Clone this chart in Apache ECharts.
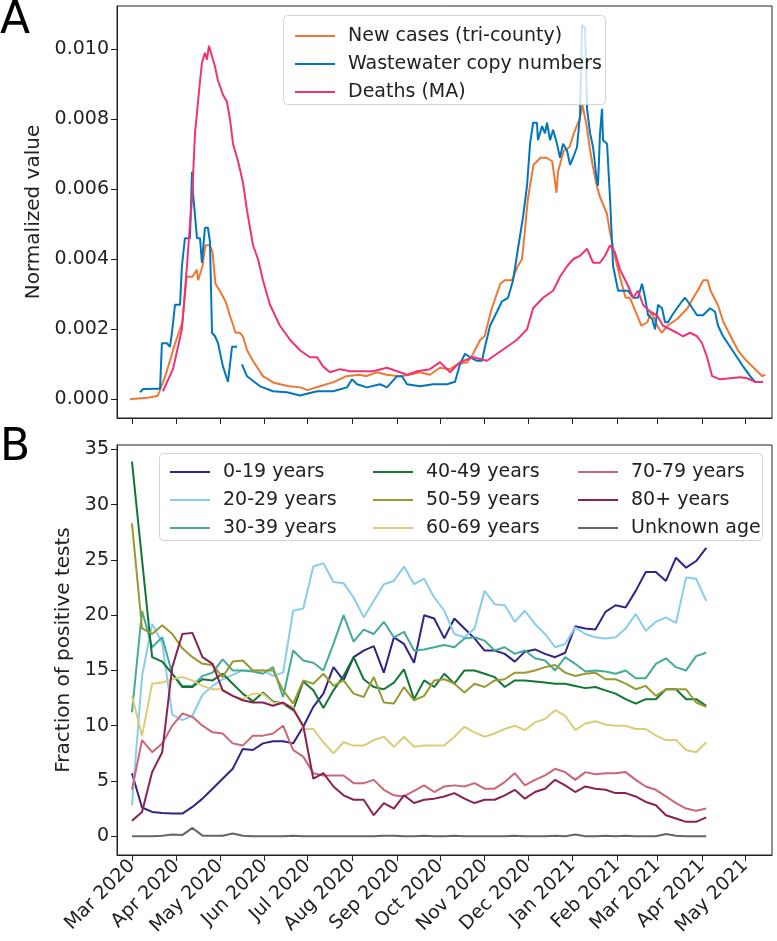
<!DOCTYPE html>
<html><head><meta charset="utf-8">
<script src="https://cdn.jsdelivr.net/npm/echarts@6/dist/echarts.min.js"></script>
<style>html,body{margin:0;padding:0;background:#fff}#c{width:777px;height:941px}</style>
</head><body><div id="c"></div>
<script>
// ---- tick labels (month starts) ----
const tickDates = ['2020-03-01','2020-04-01','2020-05-01','2020-06-01','2020-07-01','2020-08-01','2020-09-01','2020-10-01','2020-11-01','2020-12-01','2021-01-01','2021-02-01','2021-03-01','2021-04-01','2021-05-01'];
const tickLabels = ['Mar 2020','Apr 2020','May 2020','Jun 2020','Jul 2020','Aug 2020','Sep 2020','Oct 2020','Nov 2020','Dec 2020','Jan 2021','Feb 2021','Mar 2021','Apr 2021','May 2021'];
const yTicksA = [0, 0.002, 0.004, 0.006, 0.008, 0.010];
const yTicksB = [0, 5, 10, 15, 20, 25, 30, 35];

// ---- Panel A: [days since 2020-03-01, normalized value] ----
const newCases = [[-1.4,0],[12,0.00005],[18,0.0001],[24,0.00077],[30,0.0016],[35,0.0022],[38,0.0035],[42,0.0035],[45,0.0037],[46,0.0034],[49,0.0038],[51,0.0044],[54,0.0044],[56,0.0042],[58,0.0033],[61,0.0031],[65,0.0028],[68,0.0024],[72,0.0019],[75,0.0019],[77,0.0018],[80,0.0014],[84,0.0011],[91,0.00066],[98,0.00048],[108,0.00038],[117,0.00034],[122,0.00026],[131,0.00038],[140,0.00049],[149,0.00066],[158,0.0007],[163,0.00066],[170,0.00077],[177,0.0007],[186,0.00066],[193,0.0007],[200,0.00077],[207,0.0007],[214,0.0009],[221,0.00086],[226,0.001],[233,0.00106],[237,0.0013],[242,0.0017],[245,0.0018],[250,0.0026],[256,0.0033],[259,0.0034],[264,0.0034],[268,0.0038],[271,0.004],[273,0.0048],[275,0.0057],[279,0.0067],[284,0.0069],[288,0.0069],[292,0.0068],[295,0.0059],[296,0.0065],[300,0.0071],[304,0.0072],[307,0.0076],[309,0.0078],[311,0.008],[313,0.0084],[316,0.0078],[318,0.0072],[320,0.0067],[323,0.0061],[325,0.0058],[327,0.0056],[330,0.0053],[332,0.0048],[336,0.004],[339,0.0035],[343,0.0029],[346,0.0029],[350,0.0025],[354,0.0021],[358,0.0022],[361,0.0025],[365,0.0021],[368,0.0019],[372,0.0021],[379,0.0023],[386,0.0026],[390,0.0029],[393,0.0031],[397,0.0034],[400,0.0034],[402,0.0031],[407,0.0027],[411,0.0022],[416,0.0018],[421,0.0014],[427,0.0011],[433,0.00086],[438,0.00066],[440,0.0007]];
const wastewater = [[5.6,0.0002],[7.6,0.00029],[18.1,0.0003],[19.5,0.0003],[20.8,0.0016],[24.3,0.0016],[26.4,0.0015],[27.8,0.0019],[29.9,0.0027],[33.4,0.0027],[34.7,0.0038],[36.8,0.0046],[40.3,0.0046],[41.7,0.0065],[42.4,0.0059],[45.2,0.0046],[47.3,0.0046],[48.6,0.0039],[50.7,0.0049],[52.8,0.0049],[54.2,0.0045],[55.6,0.0019],[57.7,0.0018],[59.8,0.0016],[63.2,0.00094],[66.7,0.0005],[69.5,0.0015],[73.0,0.0015],[74.4,null],[76.4,0.001],[79.9,0.00066],[89.0,0.00037],[98.0,0.00023],[107.7,0.0002],[116.7,0.00011],[128.6,0.00023],[139.7,0.00023],[149.4,0.00034],[152.9,0.00057],[156.4,0.00043],[163.3,0.00034],[172.3,0.00043],[177.2,0.00034],[184.2,0.00066],[187.6,0.00066],[191.1,0.00043],[200.1,0.00037],[209.2,0.00043],[218.9,0.00043],[224.5,0.0005],[227.9,0.001],[231.4,0.0013],[234.9,0.0012],[239.7,0.0011],[243.2,0.0011],[245.3,0.0015],[248.8,0.0021],[253.6,0.0025],[257.1,0.0028],[261.3,0.0029],[264.8,0.0034],[268.2,0.0043],[271.7,0.0052],[274.5,0.0061],[276.6,0.0073],[278.7,0.0079],[281.4,0.0079],[282.1,0.0074],[284.9,0.0078],[287.0,0.0076],[288.4,0.0079],[290.5,0.0074],[292.6,0.0077],[295.3,0.0073],[297.4,0.0069],[299.5,0.0073],[302.3,0.0071],[304.4,0.0067],[306.5,0.0069],[309.2,0.0072],[311.3,0.0081],[312.7,0.0107],[314.8,0.0106],[316.2,0.0083],[318.3,0.0076],[320.4,0.0072],[323.1,0.0062],[323.8,0.0061],[325.2,0.0076],[326.6,0.0083],[327.3,0.0074],[330.1,0.0073],[332.2,0.0057],[334.3,0.0038],[337.8,0.0031],[341.2,0.0031],[344.7,0.0031],[348.2,0.0029],[351.6,0.0029],[354.4,0.0033],[356.5,0.0029],[358.6,0.0024],[361.4,0.0023],[363.4,0.002],[365.5,0.0027],[368.3,0.0026],[370.4,0.0022],[372.5,0.0022],[375.3,0.0024],[378.7,0.0026],[382.2,0.0028],[384.3,0.0029],[387.8,0.0027],[392.6,0.0024],[396.8,0.0024],[401.7,0.0026],[405.1,0.0025],[407.2,0.0021],[410.7,0.0018],[415.6,0.0015],[420.4,0.0012],[424.6,0.00094],[429.5,0.00066],[432.9,0.0005],[438.5,0.00049]];
const deathsMA = [[21.5,0.00023],[28.5,0.00086],[34.7,0.002],[38.2,0.0038],[40.3,0.005],[41.7,0.0057],[43.8,0.0076],[47.3,0.0091],[48.6,0.0096],[50.7,0.0099],[52.1,0.0097],[53.5,0.0101],[55.6,0.0098],[57.7,0.0095],[59.8,0.0091],[63.2,0.0087],[66.0,0.0085],[68.1,0.008],[70.2,0.0073],[73.7,0.0068],[77.1,0.0062],[79.9,0.0054],[84.1,0.0044],[87.6,0.004],[91.0,0.0034],[95.9,0.0027],[102.8,0.0021],[109.8,0.0017],[116.7,0.0014],[123.7,0.0012],[128.6,0.0012],[132.7,0.00094],[137.6,0.00077],[144.5,0.00086],[151.5,0.0008],[158.4,0.0008],[167.5,0.0008],[177.2,0.0009],[184.2,0.0008],[191.1,0.0007],[198.1,0.0008],[207.1,0.00086],[214.0,0.00106],[221.0,0.00077],[227.9,0.00106],[237.0,0.0012],[246.7,0.0011],[253.6,0.0013],[260.6,0.0015],[267.5,0.0017],[274.5,0.002],[278.7,0.0026],[285.6,0.0029],[292.6,0.0031],[297.4,0.0035],[302.3,0.0038],[306.5,0.004],[311.3,0.0041],[316.2,0.0043],[320.4,0.0039],[325.2,0.0039],[328.7,0.0041],[332.2,0.0044],[335.6,0.0042],[339.1,0.0037],[344.0,0.0033],[348.2,0.0029],[351.6,0.0031],[355.1,0.0027],[360.0,0.0025],[364.8,0.0024],[369.0,0.0021],[373.9,0.002],[378.7,0.0019],[382.9,0.0018],[387.8,0.0019],[392.6,0.0018],[396.1,0.0016],[399.6,0.0012],[403.1,0.00066],[408.6,0.00057],[415.6,0.0006],[422.5,0.00063],[427.4,0.0006],[432.9,0.0005],[438.5,0.00049]];

// ---- Panel B: weekly dates and % of positive tests by age ----
const weeks = ['2020-03-01','2020-03-08','2020-03-15','2020-03-22','2020-03-29','2020-04-05','2020-04-12','2020-04-19','2020-04-26','2020-05-03','2020-05-10','2020-05-17','2020-05-24','2020-05-31','2020-06-07','2020-06-14','2020-06-21','2020-06-28','2020-07-05','2020-07-12','2020-07-19','2020-07-26','2020-08-02','2020-08-09','2020-08-16','2020-08-23','2020-08-30','2020-09-06','2020-09-13','2020-09-20','2020-09-27','2020-10-04','2020-10-11','2020-10-18','2020-10-25','2020-11-01','2020-11-08','2020-11-15','2020-11-22','2020-11-29','2020-12-06','2020-12-13','2020-12-20','2020-12-27','2021-01-03','2021-01-10','2021-01-17','2021-01-24','2021-01-31','2021-02-07','2021-02-14','2021-02-21','2021-02-28','2021-03-07','2021-03-14','2021-03-21','2021-03-28','2021-04-04'];
const age0_19 = [5.7,2.6,2.2,2.1,2.05,2.05,2.65,3.4,4.3,5.2, 6.1,7.9,7.8,8.4,8.6,8.6,8.4,9.9,11.7,12.9, 15.3,14.1,16.2,16.8,17.2,14.8,18.0,17.4,15.7,20.0, 19.7,17.9,19.7,18.8,17.9,16.8,16.8,16.5,15.8,16.7, 16.9,16.5,16.2,16.6,19.0,18.8,18.7,20.3,20.9,20.7, 22.2,23.9,23.9,23.1,25.2,24.3,24.9,26.1];
const age20_29 = [2.8,14.5,19.2,17.5,11.0,10.5,10.9,12.8,13.6,14.2, 14.6,15.0,15.0,15.0,14.5,14.8,20.4,20.6,24.4,24.7, 23.0,22.9,21.6,19.8,21.3,22.8,23.1,24.4,22.8,23.3, 21.6,20.4,18.3,18.0,18.8,22.2,21.0,20.9,19.4,20.4, 19.2,18.3,17.1,17.4,18.9,18.3,18.0,17.9,18.0,18.8, 20.1,18.6,19.4,19.8,19.3,23.4,23.3,21.3];
const age30_39 = [11.2,20.4,17.1,18.0,14.7,13.6,13.6,14.5,14.8,16.0, 15.0,15.0,14.9,14.7,15.3,12.6,16.8,15.9,15.7,15.0, 17.4,20.0,17.6,18.7,18.3,19.4,18.0,18.5,16.8,16.9, 17.1,17.3,17.1,17.9,18.0,17.7,16.8,17.1,16.5,16.8, 16.1,15.9,15.0,16.2,15.6,14.9,15.0,14.9,14.7,15.0, 14.3,14.3,15.6,16.1,15.3,15.0,16.3,16.6];
const age40_49 = [33.9,25.0,16.2,15.8,14.7,13.5,13.5,14.2,14.1,14.7, 13.8,12.9,12.2,13.0,12.2,12.0,11.4,14.0,13.2,11.6, 13.2,14.5,16.2,14.2,13.5,13.3,13.9,15.1,12.4,14.1, 13.5,14.7,13.8,15.0,15.0,14.7,14.4,13.5,14.1,14.1, 14.0,13.9,13.8,13.8,13.6,13.4,13.5,13.2,12.9,12.4, 12.0,12.4,12.4,13.3,13.3,12.4,12.4,11.8];
const age50_59 = [28.3,18.8,18.3,19.1,18.3,17.0,16.2,15.6,15.5,14.4, 15.8,15.9,15.0,15.0,15.0,13.2,12.0,14.1,13.8,14.7, 13.6,14.1,12.9,12.6,14.4,12.1,12.0,13.5,12.3,12.7, 14.1,14.2,13.8,13.0,13.8,13.5,14.1,14.2,14.8,14.8, 15.0,15.3,15.5,14.8,14.5,14.7,14.8,14.2,14.2,13.8, 13.3,13.6,12.7,13.3,13.3,13.3,12.1,11.7];
const age60_69 = [12.7,9.1,13.8,13.9,14.2,14.4,14.1,13.6,13.3,13.3, 12.7,12.4,12.9,12.9,12.1,12.0,11.7,9.7,9.7,8.5, 7.5,8.5,8.2,8.2,8.7,9.0,8.1,9.0,8.1,8.2, 8.2,8.2,9.0,9.9,9.4,9.0,9.3,9.7,10.0,9.6, 10.3,10.6,11.4,10.9,9.6,10.2,10.4,10.1,10.0,10.0, 9.7,9.7,9.1,8.7,8.7,7.8,7.6,8.5];
const age70_79 = [4.2,8.7,7.6,8.4,10.0,11.1,10.8,10.0,9.4,9.3, 8.4,8.2,9.1,9.1,9.3,10.0,7.8,7.2,5.7,5.5, 5.5,5.5,4.8,4.8,5.1,4.2,3.7,3.6,4.1,4.6, 4.0,4.5,4.6,4.5,4.8,4.3,4.3,4.9,5.7,4.6, 5.1,5.5,6.1,5.8,5.1,5.8,5.6,5.7,5.7,5.8, 5.1,4.5,4.2,3.6,3.0,2.5,2.3,2.5];
const age80plus = [1.4,2.2,5.8,7.6,15.3,18.3,18.4,16.2,15.6,13.2, 12.7,12.3,12.1,12.1,11.8,12.1,11.5,10.0,5.2,5.7, 4.5,3.7,3.3,3.3,1.9,3.0,2.5,3.7,3.0,3.3, 3.4,3.6,3.9,3.4,3.0,3.3,3.3,3.7,4.2,3.4, 4.0,4.3,5.1,4.6,4.0,4.5,4.3,4.2,3.9,3.9, 3.6,3.1,2.8,1.9,1.6,1.3,1.3,1.7];
const ageUnknown = [0,0,0,0.05,0.15,0.1,0.75,0.05,0.05,0.05, 0.25,0.05,0,0,0,0,0.05,0,0,0, 0,0,0,0,0,0.05,0.05,0,0,0.05, 0,0,0.05,0,0,0,0,0,0.05,0, 0,0,0.05,0,0.15,0,0,0.05,0,0.05, 0,0,0,0.2,0.05,0,0,0];

const seriesB = [
  ['0-19 years', age0_19, '#332288'],
  ['20-29 years', age20_29, '#88CCEE'],
  ['30-39 years', age30_39, '#44AA99'],
  ['40-49 years', age40_49, '#117733'],
  ['50-59 years', age50_59, '#999933'],
  ['60-69 years', age60_69, '#DDCC77'],
  ['70-79 years', age70_79, '#CC6677'],
  ['80+ years', age80plus, '#882255'],
  ['Unknown age', ageUnknown, '#666666']
];

const DAY = 86400000;
const base = Date.UTC(2020, 2, 1);
const ts = s => Date.parse(s + 'T00:00:00Z');
const dayTs = d => base + d * DAY;
const tickTs = tickDates.map(ts);
const FONT = 'DejaVu Sans';
const TXT = '#222';
const FS = 19;

function monthLabel(v) {
  let best = 0, bd = Infinity;
  tickTs.forEach((t, i) => { const d = Math.abs(t - v); if (d < bd) { bd = d; best = i; } });
  return tickLabels[best];
}

function xAxis(grid, showLabels) {
  return {
    type: 'value', gridIndex: grid, scale: true,
    min: dayTs(-10.4), max: dayTs(444.7),
    axisLine: { show: true, onZero: false, lineStyle: { color: '#222', width: 1 } },
    axisTick: { show: true, customValues: tickTs, length: 6, lineStyle: { color: '#222', width: 1 } },
    axisLabel: { show: showLabels, customValues: tickTs, formatter: monthLabel, rotate: 45, fontSize: FS, fontFamily: FONT, color: TXT, margin: 8 },
    splitLine: { show: false }
  };
}

const option = {
  animation: false,
  backgroundColor: '#fff',
  grid: [
    { left: 117, right: 5, top: 6, height: 412, show: true, borderColor: '#222', borderWidth: 1 },
    { left: 117, right: 5, top: 445, height: 410, show: true, borderColor: '#222', borderWidth: 1 }
  ],
  xAxis: [xAxis(0, false), xAxis(1, true)],
  yAxis: [
    {
      type: 'value', gridIndex: 0, min: -0.000535, max: 0.011235,
      name: 'Normalized value', nameLocation: 'middle', nameGap: 72,
      nameTextStyle: { fontSize: 20, fontFamily: FONT, color: TXT },
      axisLine: { show: true, onZero: false, lineStyle: { color: '#222' } },
      axisTick: { show: true, customValues: yTicksA, length: 6, lineStyle: { color: '#222' } },
      axisLabel: { customValues: yTicksA, formatter: v => v.toFixed(3), fontSize: FS, fontFamily: FONT, color: TXT, margin: 8 },
      splitLine: { show: false }
    },
    {
      type: 'value', gridIndex: 1, min: -1.7, max: 35.4,
      name: 'Fraction of positive tests', nameLocation: 'middle', nameGap: 40,
      nameTextStyle: { fontSize: 20, fontFamily: FONT, color: TXT },
      axisLine: { show: true, onZero: false, lineStyle: { color: '#222' } },
      axisTick: { show: true, customValues: yTicksB, length: 6, lineStyle: { color: '#222' } },
      axisLabel: { customValues: yTicksB, formatter: v => String(v), fontSize: FS, fontFamily: FONT, color: TXT, margin: 8 },
      splitLine: { show: false }
    }
  ],
  graphic: [
    { type: 'text', left: 0, top: 0, z: 100, style: { text: 'A', fontSize: 44, fontFamily: FONT, fill: '#000' } },
    { type: 'text', left: 0, top: 427, z: 100, style: { text: 'B', fontSize: 44, fontFamily: FONT, fill: '#000' } },
    { type: 'rect', left: 283, top: 15, z: 50, shape: { width: 322, height: 89, r: 4 }, style: { fill: 'rgba(255,255,255,0.8)', stroke: '#d5d5d5', lineWidth: 1 } },
    { type: 'rect', left: 159, top: 453, z: 50, shape: { width: 603, height: 87, r: 4 }, style: { fill: 'rgba(255,255,255,0.8)', stroke: '#d5d5d5', lineWidth: 1 } }
  ],
  legend: [],
  series: []
};

const legendBase = {
  orient: 'vertical', icon: 'rect', itemWidth: 40, itemHeight: 2, itemGap: 6, z: 60,
  textStyle: { fontSize: FS, fontFamily: FONT, color: TXT, lineHeight: 22, padding: [0, 0, 0, 8] },
  selectedMode: false
};
option.legend.push(Object.assign({}, legendBase, { left: 290, top: 20, data: ['New cases (tri-county)', 'Wastewater copy numbers', 'Deaths (MA)'] }));
option.legend.push(Object.assign({}, legendBase, { left: 165, top: 456, data: ['0-19 years', '20-29 years', '30-39 years'] }));
option.legend.push(Object.assign({}, legendBase, { left: 368, top: 456, data: ['40-49 years', '50-59 years', '60-69 years'] }));
option.legend.push(Object.assign({}, legendBase, { left: 573, top: 456, data: ['70-79 years', '80+ years', 'Unknown age'] }));

const seriesA = [
  ['New cases (tri-county)', newCases, '#EE7733'],
  ['Wastewater copy numbers', wastewater, '#0077BB'],
  ['Deaths (MA)', deathsMA, '#EE3377']
];
seriesA.forEach(([name, arr, color]) => {
  option.series.push({
    name, type: 'line', xAxisIndex: 0, yAxisIndex: 0, showSymbol: false, connectNulls: false,
    color, lineStyle: { width: 2, color },
    data: arr.map(([d, v]) => [dayTs(d), v === null ? '-' : v])
  });
});
seriesB.forEach(([name, arr, color]) => {
  option.series.push({
    name, type: 'line', xAxisIndex: 1, yAxisIndex: 1, showSymbol: false,
    color, lineStyle: { width: 2, color },
    data: arr.map((v, i) => [ts(weeks[i]), v])
  });
});

const chart = echarts.init(document.getElementById('c'), null, { renderer: 'canvas' });
chart.setOption(option);
</script>
</body></html>
